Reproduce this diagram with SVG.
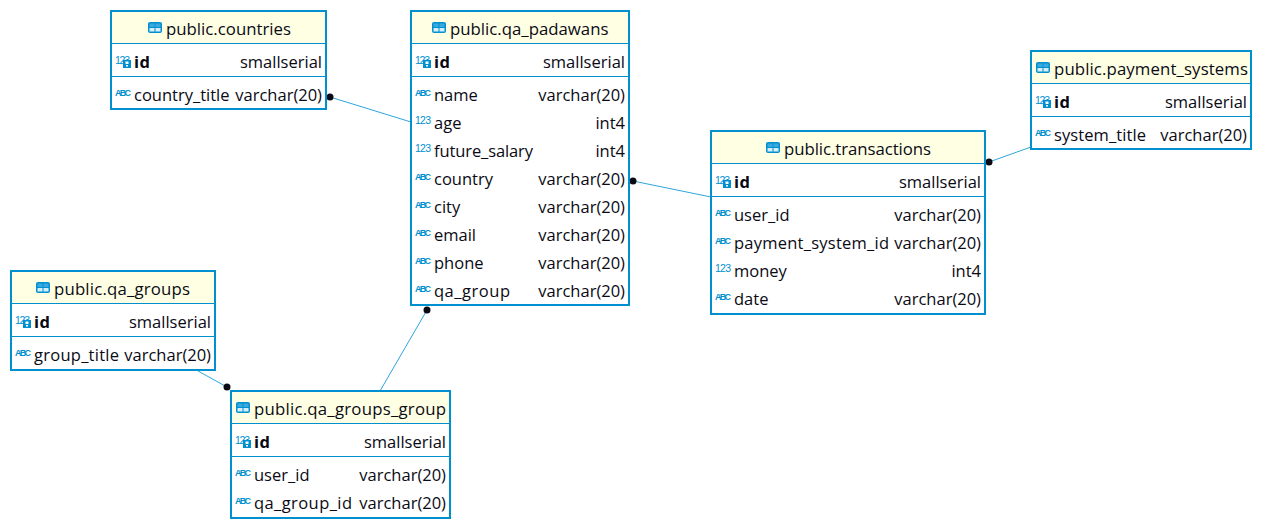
<svg xmlns="http://www.w3.org/2000/svg" width="1262" height="529" viewBox="0 0 1262 529">
<style>
text{font-family:"Open Sans","Noto Sans","Liberation Sans",sans-serif;font-size:16.500px;fill:#0a0a14}
.box{fill:#fff;stroke:#0090d0;stroke-width:2}
.head{fill:#ffffe4}
.sep{stroke:#0090d0;stroke-width:1;fill:none}
.h{font-size:16.800px}
.b{font-weight:700}
.r{text-anchor:end}
.n{font-size:10.500px;fill:#0090d0;font-family:"Liberation Sans",sans-serif}
.a{font-size:9px;font-weight:700;fill:#0090d0;font-family:"Liberation Sans",sans-serif}
.c{stroke:#2ea6dc;stroke-width:1;fill:none}
</style>
<defs>
<g id="tbl"><rect x="0" y="0" width="14" height="11" rx="2" fill="#0090d0"/><rect x="1.500" y="1.500" width="5" height="3.500" fill="#3aa9e0"/><rect x="7.500" y="1.500" width="5" height="3.500" fill="#3aa9e0"/><rect x="1.500" y="6" width="5" height="3.500" fill="#d6eefa"/><rect x="7.500" y="6" width="5" height="3.500" fill="#d6eefa"/></g>
<g id="key"><text class="n" x="0" y="0" textLength="15">123</text><rect x="8" y="-4" width="8" height="8" fill="#0090d0"/><rect x="10.500" y="-2.500" width="3" height="2.500" fill="#fff"/><rect x="11" y="1" width="2" height="1.500" fill="#fff"/></g>
<text id="num" class="n" x="0" y="0" textLength="16">123</text>
<text id="abc" class="a" x="0" y="0" textLength="16">ABC</text>
<circle id="dot" r="3.500" fill="#0a0a14"/>
</defs>

<g id="connectors">
<path class="c" d="M330 97L411 122"/>
<path class="c" d="M633 181L711 197"/>
<path class="c" d="M989 162L1031 147"/>
<path class="c" d="M427 310L380 391"/>
<path class="c" d="M198 371L227 387"/>
<use href="#dot" x="330" y="97"/>
<use href="#dot" x="633" y="181"/>
<use href="#dot" x="989" y="162"/>
<use href="#dot" x="427" y="310"/>
<use href="#dot" x="227" y="387"/>
</g>

<g id="countries">
<rect class="box" x="111" y="11" width="215" height="98"/>
<rect class="head" x="112" y="12" width="213" height="31"/>
<path class="sep" d="M112 43.500H325M112 76.500H325"/>
<use href="#tbl" x="148" y="22"/>
<text class="h" x="166" y="35">public.countries</text>
<use href="#key" x="115" y="64"/>
<text class="b" x="134" y="68" textLength="16">id</text><text class="r" x="322" y="68">smallserial</text>
<use href="#abc" x="115" y="96"/>
<text x="134" y="101">country_title</text><text class="r" x="322" y="101">varchar(20)</text>
</g>

<g id="qa_padawans">
<rect class="box" x="411" y="11" width="218" height="294"/>
<rect class="head" x="412" y="12" width="216" height="31"/>
<path class="sep" d="M412 43.500H628M412 76.500H628"/>
<use href="#tbl" x="432" y="22"/>
<text class="h" x="450" y="35">public.qa_padawans</text>
<use href="#key" x="415" y="64"/>
<text class="b" x="434" y="68" textLength="16">id</text><text class="r" x="625" y="68">smallserial</text>
<use href="#abc" x="415" y="96"/><text x="434" y="101">name</text><text class="r" x="625" y="101">varchar(20)</text>
<use href="#num" x="415" y="124"/><text x="434" y="129">age</text><text class="r" x="625" y="129">int4</text>
<use href="#num" x="415" y="152"/><text x="434" y="157" textLength="99">future_salary</text><text class="r" x="625" y="157">int4</text>
<use href="#abc" x="415" y="180"/><text x="434" y="185">country</text><text class="r" x="625" y="185">varchar(20)</text>
<use href="#abc" x="415" y="208"/><text x="434" y="213">city</text><text class="r" x="625" y="213">varchar(20)</text>
<use href="#abc" x="415" y="236"/><text x="434" y="241">email</text><text class="r" x="625" y="241">varchar(20)</text>
<use href="#abc" x="415" y="264"/><text x="434" y="269">phone</text><text class="r" x="625" y="269">varchar(20)</text>
<use href="#abc" x="415" y="292"/><text x="434" y="297" textLength="76">qa_group</text><text class="r" x="625" y="297">varchar(20)</text>
</g>

<g id="payment_systems">
<rect class="box" x="1031" y="51" width="220" height="98"/>
<rect class="head" x="1032" y="52" width="218" height="31"/>
<path class="sep" d="M1032 83.500H1250M1032 116.500H1250"/>
<use href="#tbl" x="1036" y="62"/>
<text class="h" x="1054" y="75" textLength="194">public.payment_systems</text>
<use href="#key" x="1035" y="104"/>
<text class="b" x="1054" y="108" textLength="16">id</text><text class="r" x="1247" y="108">smallserial</text>
<use href="#abc" x="1035" y="136"/><text x="1054" y="141" textLength="92">system_title</text><text class="r" x="1247" y="141">varchar(20)</text>
</g>

<g id="transactions">
<rect class="box" x="711" y="131" width="274" height="183"/>
<rect class="head" x="712" y="132" width="272" height="31"/>
<path class="sep" d="M712 163.500H984M712 196.500H984"/>
<use href="#tbl" x="766" y="142"/>
<text class="h" x="784" y="155" textLength="147">public.transactions</text>
<use href="#key" x="715" y="184"/>
<text class="b" x="734" y="188" textLength="16">id</text><text class="r" x="981" y="188">smallserial</text>
<use href="#abc" x="715" y="216"/><text x="734" y="221">user_id</text><text class="r" x="981" y="221">varchar(20)</text>
<use href="#abc" x="715" y="244"/><text x="734" y="249" textLength="155">payment_system_id</text><text class="r" x="981" y="249">varchar(20)</text>
<use href="#num" x="715" y="272"/><text x="734" y="277">money</text><text class="r" x="981" y="277">int4</text>
<use href="#abc" x="715" y="300"/><text x="734" y="305">date</text><text class="r" x="981" y="305">varchar(20)</text>
</g>

<g id="qa_groups">
<rect class="box" x="11" y="271" width="204" height="99"/>
<rect class="head" x="12" y="272" width="202" height="31"/>
<path class="sep" d="M12 303.500H214M12 336.500H214"/>
<use href="#tbl" x="36" y="282"/>
<text class="h" x="54" y="295" textLength="136">public.qa_groups</text>
<use href="#key" x="15" y="324"/>
<text class="b" x="34" y="328" textLength="16">id</text><text class="r" x="211" y="328">smallserial</text>
<use href="#abc" x="15" y="356"/><text x="34" y="361" textLength="85">group_title</text><text class="r" x="211" y="361">varchar(20)</text>
</g>

<g id="qa_groups_group">
<rect class="box" x="231" y="391" width="219" height="127"/>
<rect class="head" x="232" y="392" width="217" height="31"/>
<path class="sep" d="M232 423.500H449M232 456.500H449"/>
<use href="#tbl" x="236" y="402"/>
<text class="h" x="254" y="415" textLength="192">public.qa_groups_group</text>
<use href="#key" x="235" y="444"/>
<text class="b" x="254" y="448" textLength="16">id</text><text class="r" x="446" y="448">smallserial</text>
<use href="#abc" x="235" y="476"/><text x="254" y="481">user_id</text><text class="r" x="446" y="481">varchar(20)</text>
<use href="#abc" x="235" y="504"/><text x="254" y="509" textLength="98">qa_group_id</text><text class="r" x="446" y="509">varchar(20)</text>
</g>
</svg>
